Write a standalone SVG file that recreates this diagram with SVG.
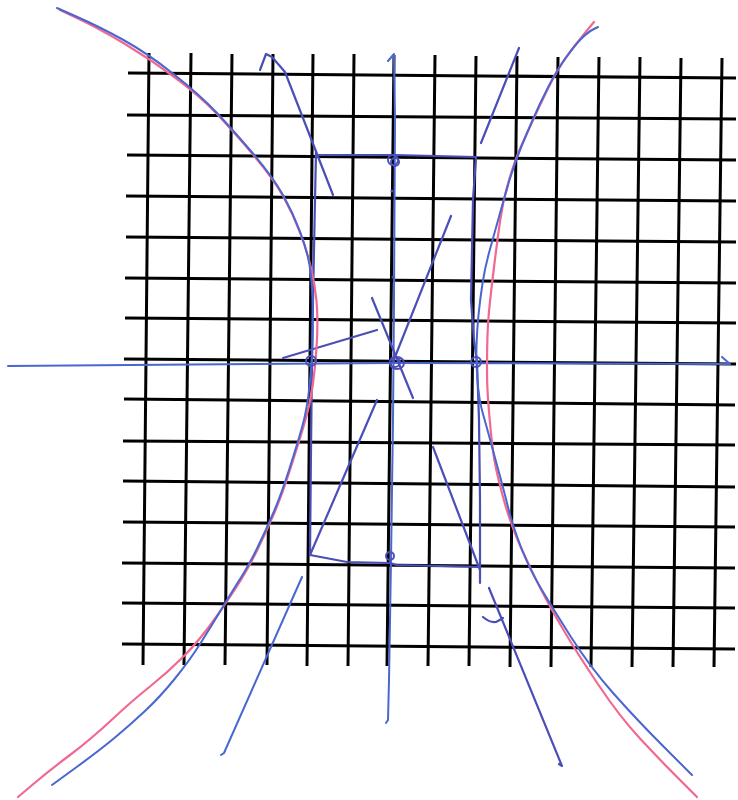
<svg xmlns="http://www.w3.org/2000/svg" width="738" height="800" viewBox="0 0 738 800">
<style>
.g{stroke:#000;stroke-width:3;fill:none;stroke-linecap:butt}
.b{stroke:#4a66d0;stroke-width:2;fill:none;stroke-linecap:round;stroke-linejoin:round}
.bd{stroke:#4a4fb8;stroke-width:2.2;fill:none;stroke-linecap:round;stroke-linejoin:round}
.r{stroke:#f26890;stroke-width:2.2;fill:none;stroke-linecap:round;stroke-linejoin:round}
.c{stroke:#4a4fb8;stroke-width:2;fill:none}
</style>
<rect width="738" height="800" fill="#fff"/>
<g id="grid">
<path class="g" d="M149,53L143,665M191,53L184,665M232,54L225,665M273,54L267,665M313,54L307,666M354,54L348,666M394,55L387,666M435,55L428,666M476,56L469,666M517,56L510,667M558,57L551,667M599,57L591,667M640,57L632,667M681,58L673,667M722,58L714,667"/>
<path class="g" d="M128,73L736,78M127,115L736,119M127,155L736,160M126,196L736,201M126,237L736,242M125,278L736,283M125,318L736,323M124,359L736,364M124,399L735,405M123,441L735,445M123,481L735,487M123,522L735,527M122,563L735,568M122,603L735,608M122,644L735,649"/>
</g>
<g id="axes">
<path class="b" d="M8,366L130,365L393,363L730,364L722,357"/>
<path class="b" d="M388,61L394,54L395,120L394,300L393,420L391,560L389,680L388,720L386,723"/>
</g>
<g id="rectangle">
<path class="bd" d="M316,152L315,200L313,300L312,362L311,450L310,555L347,562L390,563L397,565L440,566L480,567L480,583"/>
<path class="bd" d="M316,155L395,155L476,157L473,200L471,300L474,340L477,362L479,420L480,500L480,567"/>
</g>
<g id="asymptotes">
<path class="bd" d="M260,70L266,54L272,57L285,72L333,195"/>
<path class="bd" d="M372,298L413,398"/>
<path class="bd" d="M433,447L480,570"/>
<path class="bd" d="M489,588L562,766L559,764"/>
<path class="bd" d="M483,617Q490,623 496,622Q500,620 503,618"/>
<path class="bd" d="M519,48L481,143"/>
<path class="bd" d="M451,216L393,362"/>
<path class="bd" d="M377,400L310,555"/>
<path class="b" d="M302,577L224,753L221,755"/>
<path class="bd" d="M377,330L283,358"/>
</g>
<g id="red-hyperbola">
<path class="r" d="M594,22 L584.5,33.5 Q575,45 566,57.5 Q557,70 548.5,87.5 Q540,105 533.5,119 Q527,133 521,146.5 Q515,160 509,180 Q503,200 500,221.5 Q497,243 494.5,263 Q492,283 490,301.5 Q488,320 487.5,335 Q487,350 487,365 Q487,380 487.5,390 Q488,400 489.5,417.5 Q491,435 493,451 Q495,467 502.5,495 Q510,523 520,545.5 Q530,568 540,587.5 Q550,607 563.5,630 Q577,653 598.5,685 Q620,717 640,738.5 Q660,760 678.5,778.5 L697,797"/>
<path class="r" d="M60,10 L80,19.5 Q100,29 125,44 Q150,59 175,77.5 Q200,96 216.5,113.5 Q233,131 253,154.5 Q273,178 283,196 Q293,214 300,232.5 Q307,251 311,268 Q315,285 316.5,301 Q318,317 317,339.5 Q316,362 313,383.5 Q310,405 304,425 Q298,445 290,470 Q282,495 274.5,512.5 Q267,530 258.5,547.5 Q250,565 241.5,579 Q233,593 216.5,616.5 Q200,640 183.5,656.5 Q167,673 150,686.5 Q133,700 111.5,720 Q90,740 70,755 Q50,770 34,783.5 L18,797"/>
</g>
<g id="blue-hyperbola">
<path class="b" d="M598,27 L593,29.5 Q588,32 581.5,38.5 Q575,45 566,57.5 Q557,70 548.5,86.5 Q540,103 533.5,118 Q527,133 521,147.5 Q515,162 510,178.5 Q505,195 499.5,215 Q494,235 489.5,251 Q485,267 482.5,283.5 Q480,300 478.5,315 Q477,330 476.5,346 Q476,362 477.5,381 Q479,400 483,414 Q487,428 491,443 Q495,458 499,472.5 Q503,487 508,507 Q513,527 521.5,548.5 Q530,570 541,588.5 Q552,607 571,637 Q590,667 613.5,693.5 Q637,720 664.5,747.5 L692,775"/>
<path class="b" d="M57,8 L78.5,17.5 Q100,27 123.5,40 Q147,53 173.5,74 Q200,95 216.5,112.5 Q233,130 253,153.5 Q273,177 283,195 Q293,213 300,231.5 Q307,250 309.5,265 Q312,280 312.5,300 Q313,320 312.5,341 Q312,362 309.5,386 Q307,410 302,427.5 Q297,445 289,470 Q281,495 273.5,512.5 Q266,530 257.5,547.5 Q249,565 241,577.5 Q233,590 222.5,607.5 Q212,625 201,642.5 Q190,660 175,678.5 Q160,697 145,711 Q130,725 115,737.5 Q100,750 76,767.5 L52,785"/>
</g>
<g id="points">
<circle class="c" cx="393" cy="160" r="5"/>
<circle class="c" cx="395" cy="162" r="4"/>
<ellipse class="c" cx="397" cy="363" rx="7" ry="6"/>
<ellipse class="c" cx="395" cy="362" rx="5" ry="5"/>
<circle class="c" cx="311" cy="361" r="5"/>
<circle class="c" cx="476" cy="362" r="5"/>
<circle class="c" cx="390" cy="556" r="4"/>
<circle cx="392" cy="191" r="1.5" fill="#4a4fb8"/>
<circle cx="393" cy="277" r="1.5" fill="#4a4fb8"/>
</g>
</svg>
